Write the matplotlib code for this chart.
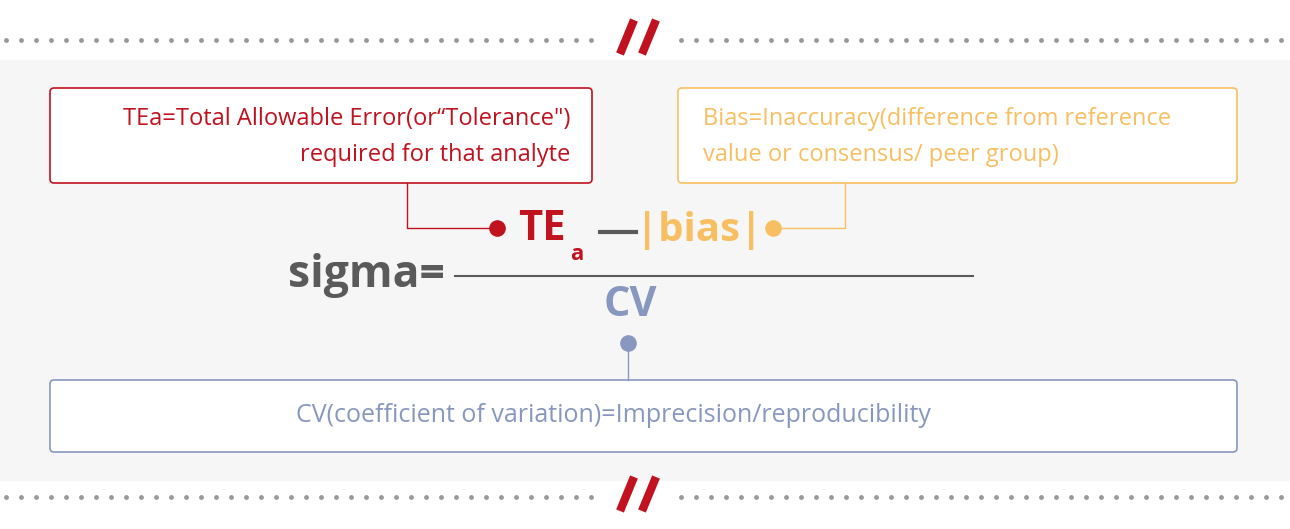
import matplotlib.pyplot as plt
from matplotlib.patches import Rectangle, FancyBboxPatch

plt.rcParams['font.family'] = ['Open Sans', 'DejaVu Sans']

red = "#c1121f"
orange = "#f8bf62"
blue = "#8797bf"
gray = "#5a5a5a"

tea_lines = ["TEa=Total Allowable Error(or“Tolerance\")", "required for that analyte"]
bias_lines = ["Bias=Inaccuracy(difference from reference", "value or consensus/ peer group)"]
cv_text = "CV(coefficient of variation)=Imprecision/reproducibility"

fig = plt.figure(figsize=(12.9, 5.29), dpi=100)
ax = fig.add_axes([0, 0, 1, 1])
ax.set_xlim(0, 1290)
ax.set_ylim(529, 0)
ax.axis("off")

# background panel
ax.add_patch(Rectangle((0, 60), 1290, 420, color="#f6f6f6", zorder=0))

# dotted separators with red slashes
for y in (40, 497):
    xs = [x for x in range(6, 1290, 15) if not (600 < x < 680)]
    ax.scatter(xs, [y] * len(xs), s=6, color="#999999", zorder=1)
    ys = y - 3
    for dx in (0, 22):
        ax.plot([620 + dx, 634 + dx], [ys + 17, ys - 17], color=red, lw=6, solid_capstyle="butt")

# boxes
def box(x0, y0, x1, y1, c):
    ax.add_patch(FancyBboxPatch((x0, y0), x1 - x0, y1 - y0, boxstyle="round,pad=0,rounding_size=4",
                                fc="white", ec=c, lw=1.2, zorder=2))

box(50, 88, 592, 183, red)
box(678, 88, 1237, 183, orange)
box(50, 380, 1237, 452, blue)

for i, t in enumerate(tea_lines):
    ax.text(570, 119 + 36 * i, t, color=red, fontsize=17, ha="right", va="center", zorder=3)
for i, t in enumerate(bias_lines):
    ax.text(703, 119 + 36 * i, t, color=orange, fontsize=17, ha="left", va="center", zorder=3)
ax.text(613, 415, cv_text, color=blue, fontsize=18, ha="center", va="center", zorder=3)

# connectors
ax.plot([407, 407, 497], [183, 228, 228], color=red, lw=1)
ax.scatter([497], [228], s=120, color=red, zorder=3)
ax.plot([773, 845, 845], [228, 228, 183], color=orange, lw=1)
ax.scatter([773], [228], s=120, color=orange, zorder=3)
ax.plot([628, 628], [343, 380], color=blue, lw=1)
ax.scatter([628], [343], s=120, color=blue, zorder=3)

# formula
ax.text(518, 230, "TE", color=red, fontsize=30, fontweight="bold", ha="left", va="center")
ax.text(570, 254, "a", color=red, fontsize=16, fontweight="bold", ha="left", va="center")
ax.plot([600, 636], [232, 232], color=gray, lw=3)
ax.text(636, 230, "|bias|", color=orange, fontsize=29, fontweight="bold", ha="left", va="center")
ax.text(445, 275, "sigma=", color=gray, fontsize=32, fontweight="bold", ha="right", va="center")
ax.plot([455, 973], [276, 276], color=gray, lw=1.5)
ax.text(630, 305, "CV", color=blue, fontsize=30, fontweight="bold", ha="center", va="center")

fig.savefig("out.png", dpi=100)
